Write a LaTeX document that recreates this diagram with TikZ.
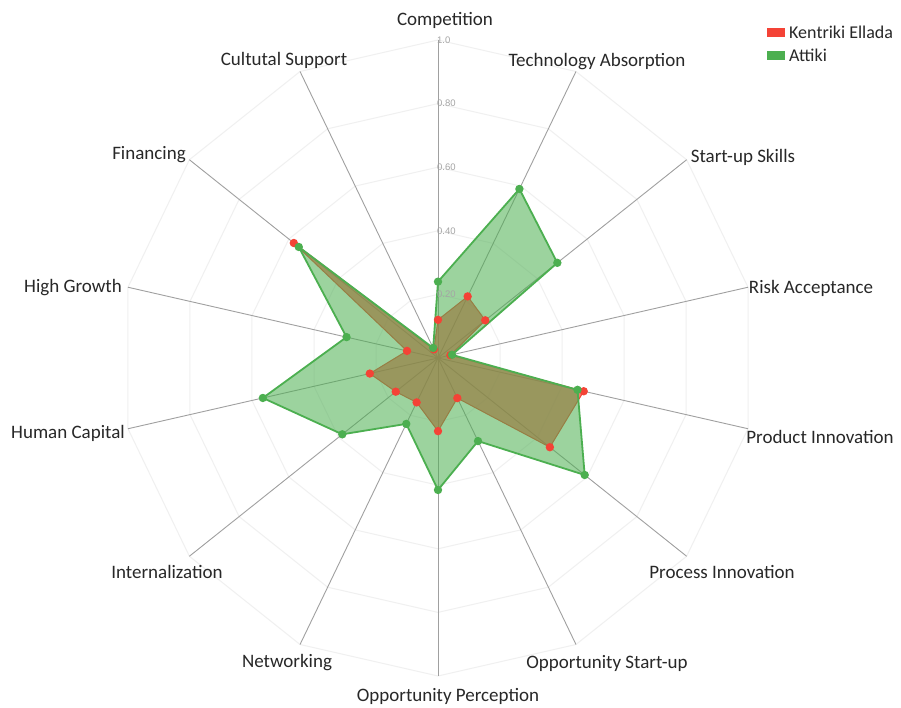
\documentclass[tikz,border=0pt]{standalone}
\usepackage{fontspec}
\setmainfont{Carlito}
\newfontfamily\ticksfont{Liberation Sans}
\definecolor{kred}{RGB}{244,67,54}
\definecolor{kgreen}{RGB}{76,175,80}
\definecolor{spokegray}{RGB}{160,160,160}
\definecolor{ringgray}{RGB}{240,240,240}
\definecolor{labelgray}{RGB}{40,40,40}
\definecolor{tickgray}{RGB}{165,165,165}
\tikzset{
  axislabel/.style={font=\fontsize{19}{22}\selectfont, text=labelgray, inner sep=0pt, anchor=center},
  legendtext/.style={font=\fontsize{18}{21}\selectfont, text=labelgray, inner sep=0pt, anchor=west},
  ticklabel/.style={font=\ticksfont\fontsize{9.5}{10}\selectfont, text=tickgray, inner sep=0pt, anchor=west},
  spoke/.style={draw=spokegray, line width=0.9pt},
  ring/.style={draw=ringgray, line width=1pt},
  redarea/.style={fill=kred, fill opacity=0.7},
  greenarea/.style={fill=kgreen, fill opacity=0.55},
  redline/.style={draw=kred, line width=1pt, line join=round},
  greenline/.style={draw=kgreen, line width=1.8pt, line join=round},
  reddot/.style={fill=kred},
  greendot/.style={fill=kgreen}
}
\def\R{318}
\def\greenvals{0.24,0.59,0.48,0.045,0.45,0.59,0.29,0.415,0.23,0.385,0.565,0.295,0.56,0.035}
\def\redvals{0.12,0.215,0.19,0.04,0.47,0.45,0.14,0.23,0.155,0.17,0.22,0.10,0.58,0.03}
\begin{document}
\begin{tikzpicture}[x=1pt,y=1pt]
\useasboundingbox (0,0) rectangle (901,708);
\fill[white] (0,0) rectangle (901,708);
\begin{scope}[shift={(438,350)}]
  \coordinate (center) at (0,0);
  % rings
  \foreach \lv in {0.2,0.4,0.6,0.8,1.0}{
    \draw[ring] (90:{\lv*\R}) \foreach \k in {1,...,13}{ -- ({90-\k*360/14}:{\lv*\R}) } -- cycle;
  }
  % spokes
  \foreach \k in {0,...,13}{
    \coordinate (axisend\k) at ({90-\k*360/14}:\R);
    \draw[spoke] (center) -- (axisend\k);
  }
  % areas
  \path[redarea] (90:{0.12*\R})
    \foreach \v [count=\i from 1] in {0.215,0.19,0.04,0.47,0.45,0.14,0.23,0.155,0.17,0.22,0.10,0.58,0.03}{ -- ({90-\i*360/14}:{\v*\R}) } -- cycle;
  \draw[redline] (90:{0.12*\R})
    \foreach \v [count=\i from 1] in {0.215,0.19,0.04,0.47,0.45,0.14,0.23,0.155,0.17,0.22,0.10,0.58,0.03}{ -- ({90-\i*360/14}:{\v*\R}) } -- cycle;
  \path[greenarea] (90:{0.24*\R})
    \foreach \v [count=\i from 1] in {0.59,0.48,0.045,0.45,0.59,0.29,0.415,0.23,0.385,0.565,0.295,0.56,0.035}{ -- ({90-\i*360/14}:{\v*\R}) } -- cycle;
  \draw[greenline] (90:{0.24*\R})
    \foreach \v [count=\i from 1] in {0.59,0.48,0.045,0.45,0.59,0.29,0.415,0.23,0.385,0.565,0.295,0.56,0.035}{ -- ({90-\i*360/14}:{\v*\R}) } -- cycle;
  % dots
  \foreach \v [count=\i from 0] in \redvals { \fill[reddot] ({90-\i*360/14}:{\v*\R}) circle (4.2); }
  \foreach \v [count=\i from 0] in \greenvals { \fill[greendot] ({90-\i*360/14}:{\v*\R}) circle (4.2); }
  % tick labels
  \node[ticklabel] (t1) at (-1,{1.0*\R}) {1.0};
  \node[ticklabel] (t8) at (-1,{0.8*\R}) {0.80};
  \node[ticklabel] (t6) at (-1,{0.6*\R}) {0.60};
  \node[ticklabel] (t4) at (-1,{0.4*\R}) {0.40};
  \node[ticklabel] (t2) at (-1,{0.2*\R}) {0.20};
\end{scope}
% axis labels
\node[axislabel] (l0) at (445,688) {Competition};
\node[axislabel] (l1) at (597,646) {Technology Absorption};
\node[axislabel] (l2) at (743,551) {Start-up Skills};
\node[axislabel] (l3) at (811,420) {Risk Acceptance};
\node[axislabel] (l4) at (820,271) {Product Innovation};
\node[axislabel] (l5) at (722,136) {Process Innovation};
\node[axislabel] (l6) at (607,45) {Opportunity Start-up};
\node[axislabel] (l7) at (448,12) {Opportunity Perception};
\node[axislabel] (l8) at (287,45) {Networking};
\node[axislabel] (l9) at (167,136) {Internalization};
\node[axislabel] (l10) at (68,275) {Human Capital};
\node[axislabel] (l11) at (73,420) {High Growth};
\node[axislabel] (l12) at (149,553) {Financing};
\node[axislabel] (l13) at (284,648) {Cultutal Support};
% legend
\fill[kred] (767,671) rectangle (785,680);
\node[legendtext] (lk) at (789,676) {Kentriki Ellada};
\fill[kgreen] (767,648) rectangle (785,657);
\node[legendtext] (la) at (789,653) {Attiki};
\end{tikzpicture}
\end{document}
